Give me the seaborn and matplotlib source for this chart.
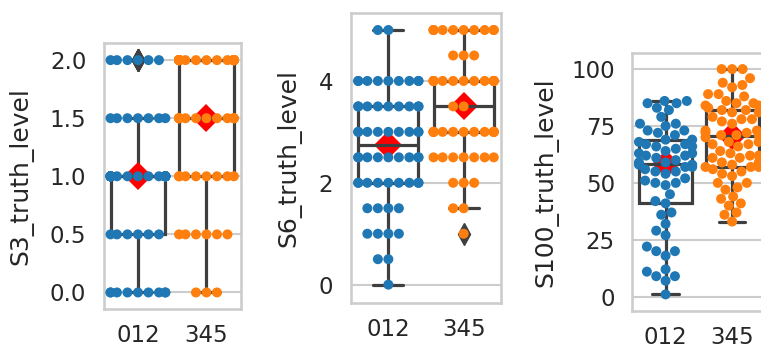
import warnings
import numpy as np
import pandas as pd
import matplotlib
matplotlib.use("Agg")
import matplotlib.pyplot as plt
import seaborn as sns

warnings.filterwarnings("ignore")

groups = ["012", "345"]

# S3: discrete levels and how many samples sit on each level
s3_levels = [0.0, 0.5, 1.0, 1.5, 2.0]
s3_counts_012 = [9, 6, 28, 7, 6]
s3_counts_345 = [3, 6, 8, 12, 26]

# S6: discrete levels and counts per level
s6_levels = [0.0, 0.5, 1.0, 1.5, 2.0, 2.5, 3.0, 3.5, 4.0, 4.5, 5.0]
s6_counts_012 = [1, 2, 4, 4, 9, 9, 9, 9, 9, 0, 2]
s6_counts_345 = [0, 0, 1, 2, 3, 7, 13, 2, 13, 3, 10]

# S100: individual scores
s100_012 = [86, 86, 85, 85, 83, 82, 79, 76, 76, 75, 73, 73, 72, 71, 69, 69,
            68, 67, 67, 66, 66, 65, 64, 63, 63, 62, 62, 61, 60, 59, 59, 58,
            58, 57, 57, 56, 55, 55, 54, 52, 51, 50, 50, 49, 45, 41, 42, 37,
            36, 32, 29, 27, 22, 20, 20, 18, 12, 11, 9, 9, 7, 1]
s100_345 = [100, 100, 100, 96, 94, 93, 92, 89, 89, 88, 86, 85, 85, 84, 84,
            83, 82, 82, 81, 81, 79, 78, 78, 77, 76, 73, 73, 72, 72, 72, 71,
            71, 71, 70, 68, 68, 67, 67, 66, 64, 63, 62, 62, 61, 61, 59, 59,
            58, 57, 57, 57, 56, 55, 54, 53, 50, 50, 48, 47, 44, 43, 41, 40,
            37, 36, 33]


def frame_from_counts(levels, counts_a, counts_b):
    vals_a = np.repeat(levels, counts_a)
    vals_b = np.repeat(levels, counts_b)
    return pd.DataFrame({
        "group": [groups[0]] * len(vals_a) + [groups[1]] * len(vals_b),
        "value": np.concatenate([vals_a, vals_b]),
    })


def frame_from_values(vals_a, vals_b):
    return pd.DataFrame({
        "group": [groups[0]] * len(vals_a) + [groups[1]] * len(vals_b),
        "value": list(vals_a) + list(vals_b),
    })


panels = [
    (frame_from_counts(s3_levels, s3_counts_012, s3_counts_345), "S3_truth_level",
     (-0.145, 2.15), [0.0, 0.5, 1.0, 1.5, 2.0], "{:.1f}"),
    (frame_from_counts(s6_levels, s6_counts_012, s6_counts_345), "S6_truth_level",
     (-0.366, 5.34), [0, 2, 4], "{:.0f}"),
    (frame_from_values(s100_012, s100_345), "S100_truth_level",
     (-6.3, 107.2), [0, 25, 50, 75, 100], "{:.0f}"),
]

sns.set_theme(style="whitegrid", context="talk")

W, H = 761, 349
fig = plt.figure(figsize=(W / 100, H / 100), dpi=100)

# axes boxes in pixels: left, right, top, bottom, y-label right edge
boxes = [
    (103.7, 240.7, 42.7, 309.3, 33),
    (350.7, 501.3, 12.7, 303.3, 301),
    (632.3, 765.4, 52.7, 311.0, 558),
]

palette = {"012": "#1f77b4", "345": "#ff7f0e"}
line_grey = "#3f3f3f"

for (df, label, ylim, ticks, fmt), (l, r, t, b, lx) in zip(panels, boxes):
    ax = fig.add_axes([l / W, 1 - b / H, (r - l) / W, (b - t) / H])
    sns.boxplot(data=df, x="group", y="value", order=groups, ax=ax,
                color="white", linecolor=line_grey, linewidth=2.3,
                width=0.8,
                flierprops=dict(marker="d", markerfacecolor=line_grey,
                                markeredgecolor=line_grey, markersize=11))
    sns.pointplot(data=df, x="group", y="value", order=groups, ax=ax,
                  estimator="median", errorbar=None, color="red",
                  markers="D", linestyles="none", markersize=14,
                  markeredgewidth=0)
    sns.swarmplot(data=df, x="group", y="value", order=groups, ax=ax,
                  hue="group", palette=palette, legend=False, size=7.2)
    ax.set_xlim(-0.5, 1.5)
    ax.set_ylim(*ylim)
    ax.set_yticks(ticks)
    ax.set_yticklabels([fmt.format(v) for v in ticks])
    ax.tick_params(axis="x", pad=1.5)
    ax.set_xlabel("")
    ax.set_ylabel(label)
    ax.yaxis.set_label_coords((lx - l) / (r - l), 0.5)
    ax.xaxis.grid(False)

fig.savefig("out.png", dpi=100)
